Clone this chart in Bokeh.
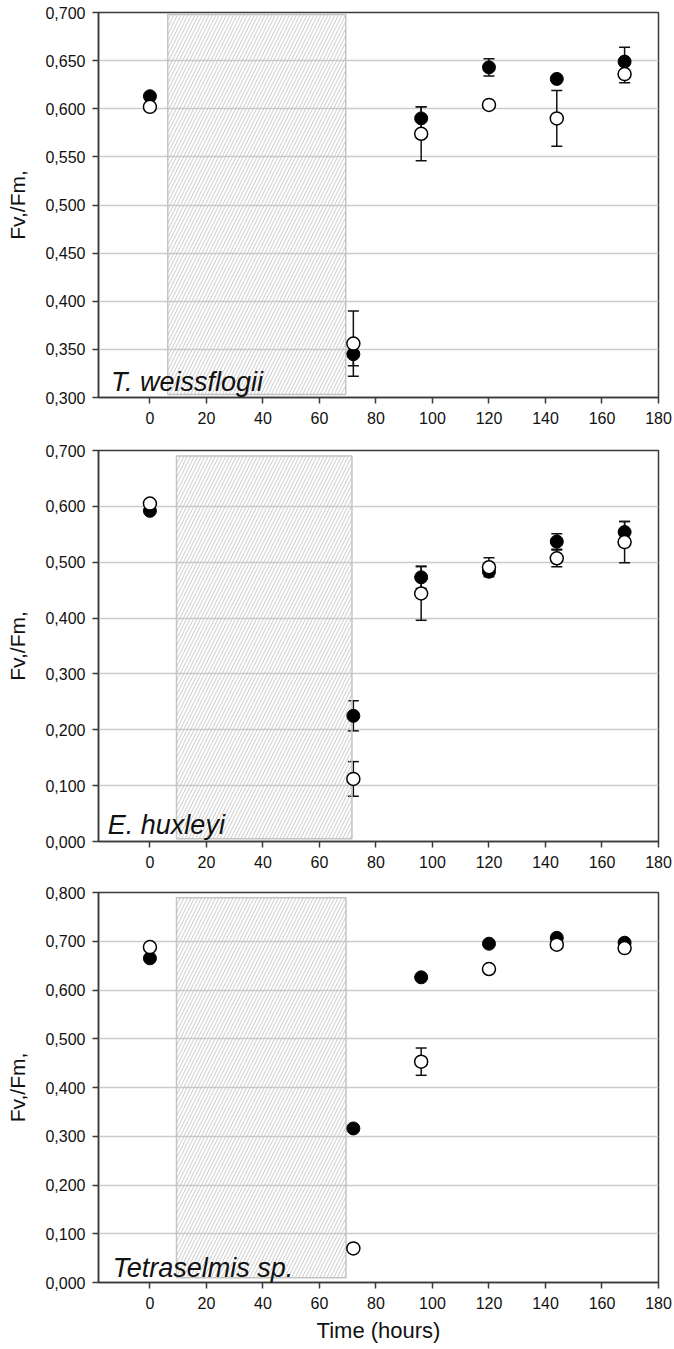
from bokeh.plotting import figure
from bokeh.layouts import column
from bokeh.models import (FixedTicker, CustomJSTickFormatter, Whisker, TeeHead,
                          ColumnDataSource, Label, Range1d)
from bokeh.embed import file_html
from bokeh.resources import INLINE

time_h = [0, 72, 96, 120, 144, 168]
x_ticks = [0, 20, 40, 60, 80, 100, 120, 140, 160, 180]

# T. weissflogii
tw_filled = [0.613, 0.345, 0.590, 0.643, 0.631, 0.649]
tw_filled_err = [0.0, 0.012, 0.012, 0.009, 0.0, 0.015]
tw_open = [0.602, 0.356, 0.574, 0.604, 0.590, 0.636]
tw_open_err = [0.0, 0.034, 0.028, 0.0, 0.029, 0.009]

# E. huxleyi
eh_filled = [0.592, 0.225, 0.473, 0.483, 0.537, 0.554]
eh_filled_err = [0.0, 0.027, 0.020, 0.0, 0.014, 0.019]
eh_open = [0.605, 0.112, 0.444, 0.491, 0.507, 0.536]
eh_open_err = [0.0, 0.031, 0.048, 0.017, 0.015, 0.037]

# Tetraselmis sp.
ts_filled = [0.665, 0.316, 0.626, 0.695, 0.707, 0.697]
ts_filled_err = [0.0, 0.0, 0.0, 0.0, 0.0, 0.0]
ts_open = [0.688, 0.070, 0.453, 0.643, 0.693, 0.686]
ts_open_err = [0.0, 0.0, 0.028, 0.0, 0.0, 0.0]

species = ["T. weissflogii", "E. huxleyi", "Tetraselmis sp."]
y_ranges = [(0.3, 0.7), (0.0, 0.7), (0.0, 0.8)]
y_steps = [0.05, 0.1, 0.1]
# hatched (dark) period boxes: x0, x1, y0, y1
dark_boxes = [(6.3, 69.3, 0.303, 0.698), (9.4, 71.5, 0.005, 0.690), (9.4, 69.4, 0.010, 0.789)]
species_pos = [(-13.8, 0.316), (-14.9, 0.030), (-13.2, 0.030)]

x_range_vals = (-18.2, 180)

series = [
    (tw_filled, tw_filled_err, tw_open, tw_open_err),
    (eh_filled, eh_filled_err, eh_open, eh_open_err),
    (ts_filled, ts_filled_err, ts_open, ts_open_err),
]

# layout: (frame_height, top border, bottom border)
layouts = [(385, 12, 43), (391, 10, 41), (390, 10, 67)]

FONT = "Liberation Sans"
AX = "#3a3a3a"
figs = []
for i in range(3):
    fh, bt, bb = layouts[i]
    y0, y1 = y_ranges[i]
    p = figure(frame_width=560, frame_height=fh, width=674, height=fh + bt + bb,
               min_border_left=98, min_border_right=16, min_border_top=bt, min_border_bottom=bb,
               x_range=Range1d(*x_range_vals), y_range=Range1d(y0, y1),
               output_backend="svg", toolbar_location=None)
    p.outline_line_color = AX
    p.outline_line_width = 1.5
    p.background_fill_color = "white"
    p.border_fill_color = "white"

    n = int(round((y1 - y0) / y_steps[i]))
    yt = [round(y0 + k * y_steps[i], 3) for k in range(n + 1)]
    p.yaxis.ticker = FixedTicker(ticks=yt)
    p.xaxis.ticker = FixedTicker(ticks=x_ticks)
    p.yaxis.formatter = CustomJSTickFormatter(code="return tick.toFixed(3).replace('.', ',');")
    for ax in (p.xaxis[0], p.yaxis[0]):
        ax.axis_line_color = AX
        ax.axis_line_width = 1.5
        ax.major_tick_line_color = AX
        ax.major_tick_line_width = 1.5
        ax.major_tick_in = 0
        ax.major_tick_out = 6
        ax.minor_tick_line_color = None
        ax.major_label_text_font = FONT
        ax.major_label_text_font_size = "16px"
        ax.major_label_text_color = "#111111"
    p.yaxis.major_label_standoff = 7
    p.xaxis.major_label_standoff = 8
    p.yaxis.axis_label = "Fv,/Fm,"
    p.yaxis.axis_label_text_font = FONT
    p.yaxis.axis_label_text_font_style = "normal"
    p.yaxis.axis_label_text_font_size = "21px"
    p.yaxis.axis_label_standoff = 13
    p.yaxis.axis_label_text_color = "#111111"
    if i == 2:
        p.xaxis.axis_label = "Time (hours)"
        p.xaxis.axis_label_text_font = FONT
        p.xaxis.axis_label_text_font_style = "normal"
        p.xaxis.axis_label_text_font_size = "22px"
        p.xaxis.axis_label_standoff = 6
        p.xaxis.axis_label_text_color = "#111111"

    p.xgrid.visible = False
    p.ygrid.grid_line_color = "#cccccc"
    p.ygrid.grid_line_width = 1.5

    bx0, bx1, by0, by1 = dark_boxes[i]
    p.quad(left=[bx0], right=[bx1], bottom=[by0], top=[by1],
           fill_color=None, fill_alpha=0, hatch_pattern="/", hatch_color="#bdbdbd",
           hatch_scale=7, hatch_weight=0.8,
           line_color="#c4c4c4", line_width=1.5)

    f, fe, o, oe = series[i]
    src = ColumnDataSource(dict(
        x=time_h, f=f, o=o,
        f_lo=[a - b for a, b in zip(f, fe)], f_hi=[a + b for a, b in zip(f, fe)],
        o_lo=[a - b for a, b in zip(o, oe)], o_hi=[a + b for a, b in zip(o, oe)],
    ))
    for lo, hi in (("f_lo", "f_hi"), ("o_lo", "o_hi")):
        w = Whisker(source=src, base="x", lower=lo, upper=hi,
                    line_color="#111111", line_width=1.5,
                    upper_head=TeeHead(size=11, line_color="#111111", line_width=1.5),
                    lower_head=TeeHead(size=11, line_color="#111111", line_width=1.5))
        w.level = "underlay"
        p.add_layout(w)
    p.scatter("x", "f", source=src, size=13, fill_color="black", line_color="black", line_width=1)
    p.scatter("x", "o", source=src, size=13, fill_color="white", line_color="black", line_width=1.5)

    sx, sy = species_pos[i]
    p.add_layout(Label(x=sx, y=sy, text=species[i], text_font=FONT, text_font_style="italic",
                       text_font_size="27px", text_color="#111111", text_baseline="alphabetic"))
    figs.append(p)

layout = column(*figs, spacing=0)
open("out.html", "w").write(file_html(layout, INLINE))
